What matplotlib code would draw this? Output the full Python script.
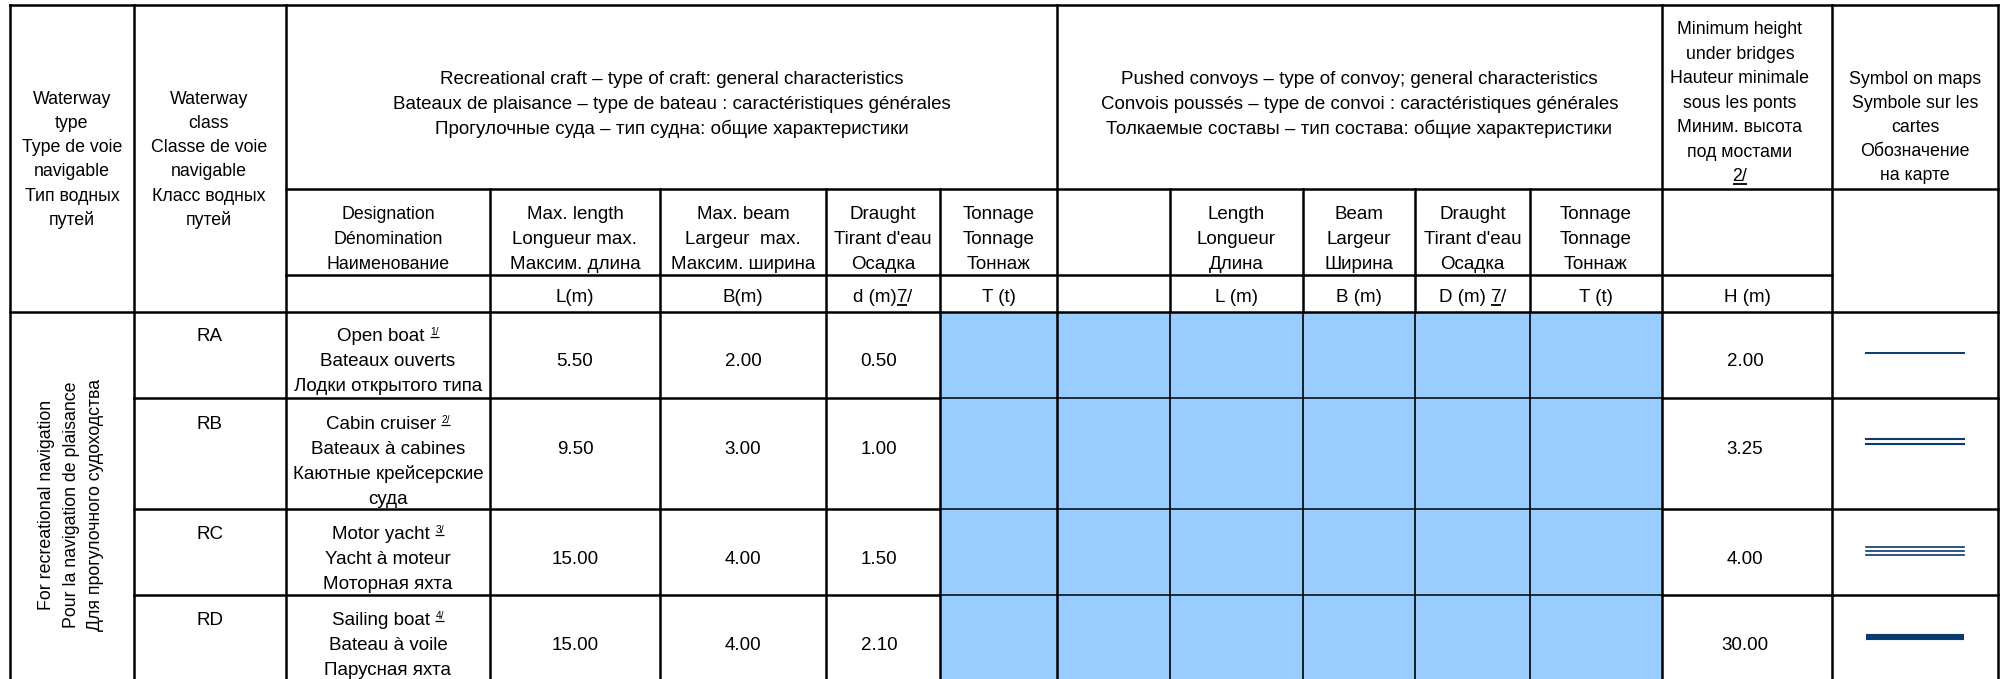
#!/usr/bin/env python

# classification table of recreational waterways, drawn as a grid with matplotlib

import logging
import matplotlib
matplotlib.use('Agg')
import matplotlib.pyplot as plt
from matplotlib.patches import Rectangle
from matplotlib import font_manager

logging.getLogger('matplotlib.font_manager').setLevel(logging.ERROR)

# table data
classes = ['RA', 'RB', 'RC', 'RD']
designations = [
    ['Open boat', 'Bateaux ouverts', 'Лодки открытого типа'],
    ['Cabin cruiser', 'Bateaux à cabines', 'Каютные крейсерские', 'суда'],
    ['Motor yacht', 'Yacht à moteur', 'Моторная яхта'],
    ['Sailing boat', 'Bateau à voile', 'Парусная яхта'],
]
footnotes = ['1/', '2/', '3/', '4/']
max_length = [5.50, 9.50, 15.00, 15.00]
max_beam = [2.00, 3.00, 4.00, 4.00]
draught = [0.50, 1.00, 1.50, 2.10]
bridge_height = [2.00, 3.25, 4.00, 30.00]
symbol_kind = ['single', 'double', 'triple', 'bold']

waterway_type = ['Waterway', 'type', 'Type de voie', 'navigable', 'Тип водных', 'путей']
waterway_class = ['Waterway', 'class', 'Classe de voie', 'navigable', 'Класс водных', 'путей']
recreational_title = ['Recreational craft – type of craft: general characteristics',
                      'Bateaux de plaisance – type de bateau : caractéristiques générales',
                      'Прогулочные суда – тип судна: общие характеристики']
pushed_title = ['Pushed convoys – type of convoy; general characteristics',
                'Convois poussés – type de convoi : caractéristiques générales',
                'Толкаемые составы – тип состава: общие характеристики']
min_height_title = ['Minimum height', 'under bridges', 'Hauteur minimale', 'sous les ponts',
                    'Миним. высота', 'под мостами']
symbol_title = ['Symbol on maps', 'Symbole sur les', 'cartes', 'Обозначение', 'на карте']
rec_sub = [['Designation', 'Dénomination', 'Наименование'],
           ['Max. length', 'Longueur max.', 'Максим. длина'],
           ['Max. beam', 'Largeur  max.', 'Максим. ширина'],
           ['Draught', "Tirant d'eau", 'Осадка'],
           ['Tonnage', 'Tonnage', 'Тоннаж']]
push_sub = [[],
            ['Length', 'Longueur', 'Длина'],
            ['Beam', 'Largeur', 'Ширина'],
            ['Draught', "Tirant d'eau", 'Осадка'],
            ['Tonnage', 'Tonnage', 'Тоннаж']]
side_label = ['For recreational navigation', 'Pour la navigation de plaisance',
              'Для прогулочного судоходства']

# layout (pixels)
W, H = 2004, 679
cx = [10, 134, 286, 490, 660, 826, 940, 1057, 1170, 1303, 1415, 1530, 1662, 1832, 1998]
row_y = [312, 398, 509, 595, 679]
first_line = [335, 423, 533, 619]
LS = 25
BLUE = '#99ccff'
NAVY = '#0b3a6e'

def pick(names):
    have = {f.name for f in font_manager.fontManager.ttflist}
    return [n for n in names if n in have] + ['DejaVu Sans']

NARROW = pick(['Liberation Sans Narrow', 'Liberation Sans'])
REG = pick(['Liberation Sans'])
FS_N = 13.5
FS_R = 12.8

fig = plt.figure(figsize=(W / 100, H / 100), dpi=100)
ax = fig.add_axes([0, 0, 1, 1])
ax.set_xlim(0, W)
ax.set_ylim(H, 0)
ax.axis('off')
renderer = fig.canvas.get_renderer()


def put(x, y, s, fam=NARROW, size=FS_N, **kw):
    return ax.text(x, y + 6, s, ha='center', va='baseline', family=fam, fontsize=size, **kw)


def lines(x, y0, txts, fam=NARROW, size=FS_N, step=LS):
    for i, s in enumerate(txts):
        put(x, y0 + i * step, s, fam, size)


def width_px(t):
    return t.get_window_extent(renderer=renderer).width


def rich(x, y, parts, size=FS_N, fam=NARROW):
    # parts: (text, underline, small)
    objs = []
    for s, ul, small in parts:
        fs = size * 0.55 if small else size
        t = ax.text(0, y + 6 - (6 if small else 0), s, ha='left', va='baseline',
                    family=fam, fontsize=fs)
        objs.append((t, ul, small, width_px(t)))
    total = sum(o[3] for o in objs)
    pos = x - total / 2
    for t, ul, small, w in objs:
        t.set_x(pos)
        if ul:
            yb = y + 6 - (6 if small else 0) + (1.5 if small else 2.5)
            ax.plot([pos, pos + w], [yb, yb], color='black', lw=0.9 if small else 1.3,
                    solid_capstyle='butt')
        pos += w


# blue empty cells
ax.add_patch(Rectangle((cx[6], row_y[0]), cx[12] - cx[6], H - row_y[0],
                       facecolor=BLUE, edgecolor='none', zorder=0))

# grid
LW = 1.8


def hline(y, x0, x1, lw=LW):
    ax.plot([x0, x1], [y, y], color='black', lw=lw, solid_capstyle='projecting')


def vline(x, y0, y1, lw=LW):
    ax.plot([x, x], [y0, y1], color='black', lw=lw, solid_capstyle='projecting')


hline(5, cx[0], cx[-1])
hline(189, cx[2], cx[-1])
hline(275, cx[2], cx[13])
hline(row_y[0], cx[0], cx[-1])
for y in row_y[1:-1]:
    hline(y, cx[1], cx[6])
    hline(y, cx[6], cx[12], lw=1.1)
    hline(y, cx[12], cx[-1])
for i, x in enumerate(cx):
    if i in (0, 1, 2, 7, 12, 13, 14):
        vline(x, 5, H)
    elif 8 <= i <= 11:
        vline(x, 189, row_y[0])
        vline(x, row_y[0], H, lw=1.2)
    else:
        vline(x, 189, H)

# header texts
ys = [98, 122, 146, 170, 195, 219]
for i, s in enumerate(waterway_type):
    put(72, ys[i], s, REG, FS_R)
for i, s in enumerate(waterway_class):
    put(209, ys[i], s, REG, FS_R)
lines((cx[2] + cx[7]) / 2, 78, recreational_title)
lines((cx[7] + cx[12]) / 2, 78, pushed_title)
lines(1740, 28, min_height_title, REG, FS_R, step=24.6)
rich(1740, 175, [('2/', True, False)], FS_R, REG)
lines(1915, 78, symbol_title, REG, FS_R, step=24)

for j, sub in enumerate(rec_sub):
    fam = REG if j == 0 else NARROW
    lines((cx[2 + j] + cx[3 + j]) / 2, 213, sub, fam, FS_R if j == 0 else FS_N)
for j, sub in enumerate(push_sub):
    lines((cx[7 + j] + cx[8 + j]) / 2, 213, sub)

unit_y = 296
put((cx[3] + cx[4]) / 2, unit_y, 'L(m)')
put((cx[4] + cx[5]) / 2, unit_y, 'B(m)')
rich((cx[5] + cx[6]) / 2, unit_y, [('d (m)', False, False), ('7', True, False), ('/', False, False)])
put((cx[6] + cx[7]) / 2, unit_y, 'T (t)')
put((cx[8] + cx[9]) / 2, unit_y, 'L (m)')
put((cx[9] + cx[10]) / 2, unit_y, 'B (m)')
rich((cx[10] + cx[11]) / 2, unit_y, [('D (m) ', False, False), ('7', True, False), ('/', False, False)])
put((cx[11] + cx[12]) / 2, unit_y, 'T (t)')
put(1747, unit_y, 'H (m)')

# side label, one rotated line per language
for i, s in enumerate(side_label):
    ax.text(47 + i * 24.5, 505, s, rotation=90, ha='center', va='center',
            family=REG, fontsize=FS_R)

# data rows
for r in range(4):
    y0 = first_line[r]
    ymid = y0 + LS
    put((cx[1] + cx[2]) / 2, y0, classes[r])
    xd = (cx[2] + cx[3]) / 2
    rich(xd, y0, [(designations[r][0] + ' ', False, False), (footnotes[r], True, True)])
    lines(xd, y0 + LS, designations[r][1:])
    put((cx[3] + cx[4]) / 2, ymid, f'{max_length[r]:.2f}')
    put((cx[4] + cx[5]) / 2, ymid, f'{max_beam[r]:.2f}')
    put((cx[5] + cx[6]) / 2 - 4, ymid, f'{draught[r]:.2f}')
    put(1745, ymid, f'{bridge_height[r]:.2f}')

    # map symbol
    sx = [1866, 1964]
    ys0 = y0 + 18
    kind = symbol_kind[r]
    if kind == 'single':
        ax.plot(sx, [ys0, ys0], color=NAVY, lw=1.4)
    elif kind == 'double':
        for d in (-2.5, 2.5):
            ax.plot(sx, [ys0 + d, ys0 + d], color=NAVY, lw=1.5)
    elif kind == 'triple':
        for d in (-4, 0, 4):
            ax.plot(sx, [ys0 + d, ys0 + d], color=NAVY, lw=1.2)
    else:
        ax.plot(sx, [ys0, ys0], color=NAVY, lw=4.4, solid_capstyle='butt')

fig.savefig('out.png', dpi=100, facecolor='white')
